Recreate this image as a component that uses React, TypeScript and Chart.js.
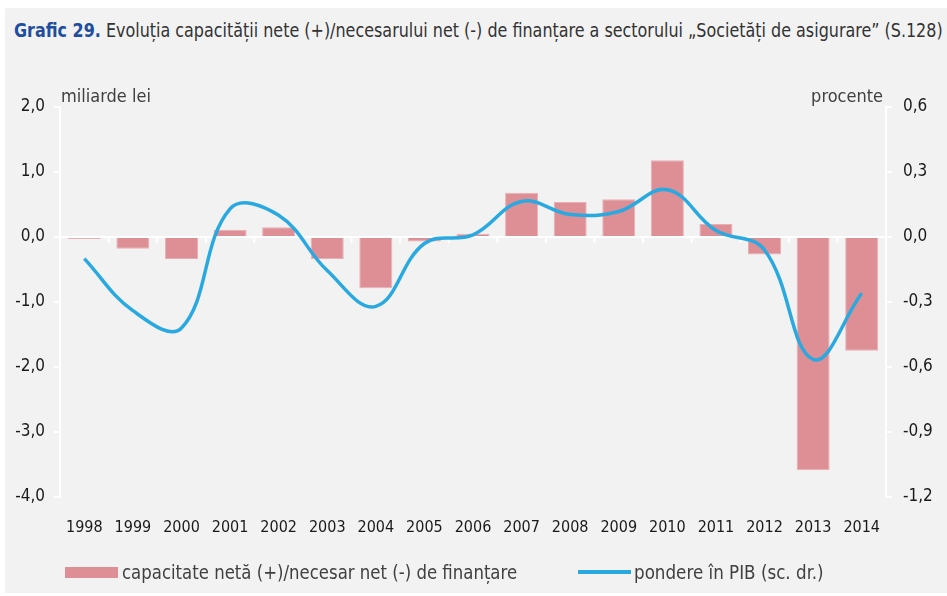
import React, { useEffect, useRef } from 'react';
import { Chart, registerables } from 'chart.js';
Chart.register(...registerables);

const years = ['1998', '1999', '2000', '2001', '2002', '2003', '2004', '2005', '2006', '2007', '2008', '2009', '2010', '2011', '2012', '2013', '2014'];
const netCapacity = [-0.03, -0.18, -0.34, 0.11, 0.15, -0.34, -0.79, -0.07, 0.05, 0.68, 0.54, 0.58, 1.18, 0.2, -0.27, -3.59, -1.75];
const gdpShare = [-0.1, -0.34, -0.42, 0.13, 0.1, -0.155, -0.32, -0.03, 0.01, 0.164, 0.104, 0.118, 0.218, 0.03, -0.06, -0.565, -0.26];
const barLabel = 'capacitate netă (+)/necesar net (-) de finanțare';
const lineLabel = 'pondere în PIB (sc. dr.)';
const leftTitle = 'miliarde lei';
const rightTitle = 'procente';

const FONT = '"Liberation Sans Narrow", "DejaVu Sans Condensed", "Open Sans", sans-serif';
const BAR_COLOR = '#de8f96';
const LINE_COLOR = '#29a9e0';
const BG = '#f2f2f2';

const fmt = (v: number) => Number(v).toFixed(1).replace('.', ',');

export default function App() {
  const ref = useRef<HTMLCanvasElement>(null);
  const titleRef = useRef<HTMLDivElement>(null);
  const leg1Ref = useRef<HTMLSpanElement>(null);
  const leg2Ref = useRef<HTMLSpanElement>(null);
  useEffect(() => {
    const fit = (el: HTMLElement | null, target: number) => {
      if (!el) return;
      const w = el.scrollWidth;
      if (w > 0) el.style.transform = `scaleX(${target / w})`;
    };
    fit(titleRef.current, 929);
    fit(leg1Ref.current, 395);
    fit(leg2Ref.current, 190);
    const zeroPlugin = {
      id: 'zeroPlugin',
      afterDatasetDraw(chart: any, args: any) {
        if (args.index !== 0) return;
        const { ctx, chartArea } = chart;
        const y0 = chart.scales.y.getPixelForValue(0);
        ctx.save();
        ctx.strokeStyle = '#ffffff';
        ctx.lineWidth = 2;
        ctx.beginPath();
        ctx.moveTo(chartArea.left, y0);
        ctx.lineTo(chartArea.right + 6, y0);
        ctx.stroke();
        const n = years.length;
        const w = (chartArea.right - chartArea.left) / n;
        for (let i = 0; i <= n; i++) {
          const x = chartArea.left + i * w;
          ctx.beginPath();
          ctx.moveTo(x, y0);
          ctx.lineTo(x, y0 + 6);
          ctx.stroke();
        }
        ctx.restore();
      },
      afterDraw(chart: any) {
        const { ctx, chartArea } = chart;
        ctx.save();
        ctx.font = '18px ' + FONT;
        ctx.fillStyle = '#404040';
        ctx.textBaseline = 'middle';
        ctx.textAlign = 'left';
        ctx.fillText(leftTitle, chartArea.left + 1, chartArea.top - 10);
        ctx.textAlign = 'right';
        ctx.fillText(rightTitle, chartArea.right - 3, chartArea.top - 10);
        ctx.restore();
      },
    };
    const chart = new Chart(ref.current as HTMLCanvasElement, {
      type: 'bar',
      data: {
        labels: years,
        datasets: [
          {
            type: 'bar',
            label: barLabel,
            data: netCapacity,
            backgroundColor: BAR_COLOR,
            borderColor: '#e8b0b4',
            borderWidth: 1,
            barPercentage: 0.68,
            categoryPercentage: 1,
            yAxisID: 'y',
            order: 1,
          },
          {
            type: 'line',
            label: lineLabel,
            data: gdpShare,
            borderColor: LINE_COLOR,
            backgroundColor: LINE_COLOR,
            borderWidth: 3.5,
            pointRadius: 0,
            tension: 0.4,
            yAxisID: 'y1',
            order: 0,
          },
        ],
      },
      options: {
        animation: false,
        responsive: false,
        layout: { padding: { top: 99, left: 0, right: 0, bottom: 0 } },
        plugins: { legend: { display: false }, tooltip: { enabled: false }, title: { display: false } },
        scales: {
          x: {
            grid: { display: false },
            border: { display: false },
            ticks: { color: '#1a1a1a', font: { family: FONT, size: 16 }, padding: 13, maxRotation: 0 },
            afterFit: (s: any) => { s.height = 96; },
          },
          y: {
            position: 'left',
            min: -4,
            max: 2,
            ticks: { stepSize: 1, color: '#1a1a1a', font: { family: FONT, size: 17 }, padding: 9, callback: (v: any) => fmt(v) },
            grid: { drawOnChartArea: false, drawTicks: true, tickLength: 6, color: '#ffffff', lineWidth: 2 },
            border: { display: true, color: '#ffffff', width: 2 },
            afterFit: (s: any) => { s.width = 55; },
          },
          y1: {
            position: 'right',
            min: -1.2,
            max: 0.6,
            ticks: { stepSize: 0.3, color: '#1a1a1a', font: { family: FONT, size: 17 }, padding: 11, callback: (v: any) => fmt(v) },
            grid: { drawOnChartArea: false, drawTicks: true, tickLength: 6, color: '#ffffff', lineWidth: 2 },
            border: { display: true, color: '#ffffff', width: 2 },
            afterFit: (s: any) => { s.width = 61; },
          },
        },
      },
      plugins: [zeroPlugin],
    });
    return () => chart.destroy();
  }, []);

  return (
    <div style={{ position: 'absolute', left: 5, top: 8, width: 942, height: 585, background: BG, fontFamily: FONT }}>
      <div ref={titleRef} style={{ position: 'absolute', left: 9, top: 10, fontSize: 19, lineHeight: '24px', whiteSpace: 'nowrap', color: '#333333', transformOrigin: 'left center' }}>
        <span style={{ color: '#1f4e9f', fontWeight: 'bold' }}>Grafic 29.</span> Evoluția capacității nete (+)/necesarului net (-) de finanțare a sectorului „Societăți de asigurare”  (S.128)
      </div>
      <canvas ref={ref} width={942} height={585} style={{ position: 'absolute', left: 0, top: 0 }} />
      <div style={{ position: 'absolute', left: 60, top: 552, height: 24, display: 'flex', alignItems: 'center', fontSize: 19, color: '#404040', whiteSpace: 'nowrap' }}>
        <span style={{ display: 'inline-block', width: 53, height: 11, background: BAR_COLOR, marginRight: 4 }} />
        <span ref={leg1Ref} style={{ display: 'inline-block', transformOrigin: 'left center' }}>{barLabel}</span>
      </div>
      <div style={{ position: 'absolute', left: 573, top: 552, height: 24, display: 'flex', alignItems: 'center', fontSize: 19, color: '#404040', whiteSpace: 'nowrap' }}>
        <span style={{ display: 'inline-block', width: 53, height: 4, background: LINE_COLOR, marginRight: 3 }} />
        <span ref={leg2Ref} style={{ display: 'inline-block', transformOrigin: 'left center' }}>{lineLabel}</span>
      </div>
    </div>
  );
}
